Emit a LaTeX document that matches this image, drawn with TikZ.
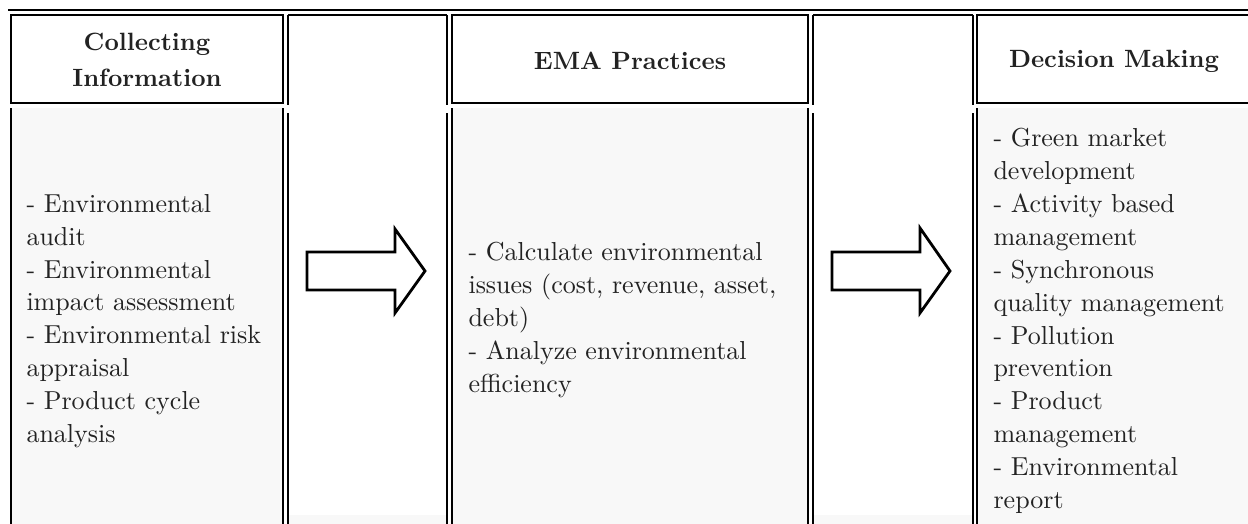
\documentclass[tikz,border=0pt]{standalone}
\usepackage{tikz}
\definecolor{txt}{RGB}{34,34,34}
\definecolor{cellgray}{RGB}{248,248,248}
\tikzset{
  cellbox/.style={draw=black, line width=1.1pt},
  sideline/.style={draw=black, line width=1.8pt},
  hdr/.style={font=\bfseries\fontsize{10}{14.2}\selectfont, text=txt, align=center, inner sep=0pt, scale=2.5, transform shape},
  bodytext/.style={font=\fontsize{10}{12.65}\selectfont, text=txt, align=left, inner sep=0pt, anchor=west, scale=2.6, transform shape},
  arrowshape/.style={draw=black, line width=2.8pt, fill=white, line join=miter},
  toprule/.style={draw=black, line width=2.2pt}
}
\begin{document}
\begin{tikzpicture}[x=1pt,y=-1pt]
\useasboundingbox (0,0) rectangle (1248,523);
\clip (0,0) rectangle (1248,523);
% top rule
\draw[toprule] (8,10) -- (1250,10);
% column 1
\draw[cellbox] (11,15) rectangle (283,103);
\fill[cellgray] (11,108) rectangle (283,530);
\draw[cellbox] (11,108) -- (11,530) (283,108) -- (283,530);
% column 2 (arrow)
\draw[cellbox] (288,15) -- (447,15);
\draw[sideline] (288,15) -- (288,105) (447,15) -- (447,105);
\fill[cellgray] (289,515) rectangle (446,530);
\draw[sideline] (288,113) -- (288,530) (447,113) -- (447,530);
% column 3
\draw[cellbox] (452,15) rectangle (808,103);
\fill[cellgray] (452,108) rectangle (808,530);
\draw[cellbox] (452,108) -- (452,530) (808,108) -- (808,530);
% column 4 (arrow)
\draw[cellbox] (813,15) -- (973,15);
\draw[sideline] (813,15) -- (813,105) (973,15) -- (973,105);
\fill[cellgray] (814,515) rectangle (972,530);
\draw[sideline] (813,113) -- (813,530) (973,113) -- (973,530);
% column 5
\draw[cellbox] (977,15) rectangle (1260,103);
\fill[cellgray] (977,108) rectangle (1260,530);
\draw[cellbox] (977,108) -- (977,530);
% headers
\node[hdr] (h1) at (147,60) {Collecting\\Information};
\node[hdr] (h3) at (630,61) {EMA Practices};
\node[hdr] (h5) at (1114,61) {Decision Making};
% body texts
\node[bodytext] (b1) at (26,321) {- Environmental\\audit\\- Environmental\\impact assessment\\- Environmental risk\\appraisal\\- Product cycle\\analysis};
\node[bodytext] (b3) at (468,320) {- Calculate environmental\\issues (cost, revenue, asset,\\debt)\\- Analyze environmental\\efficiency};
\node[bodytext] (b5) at (993,321) {- Green market\\development\\- Activity based\\management\\- Synchronous\\quality management\\- Pollution\\prevention\\- Product\\management\\- Environmental\\report};
% arrows
\draw[arrowshape] (307,252) -- (395,252) -- (395,229) -- (425,271) -- (395,313) -- (395,290) -- (307,290) -- cycle;
\draw[arrowshape] (832,252) -- (920,252) -- (920,228) -- (950,271) -- (920,313) -- (920,290) -- (832,290) -- cycle;
\end{tikzpicture}
\end{document}
